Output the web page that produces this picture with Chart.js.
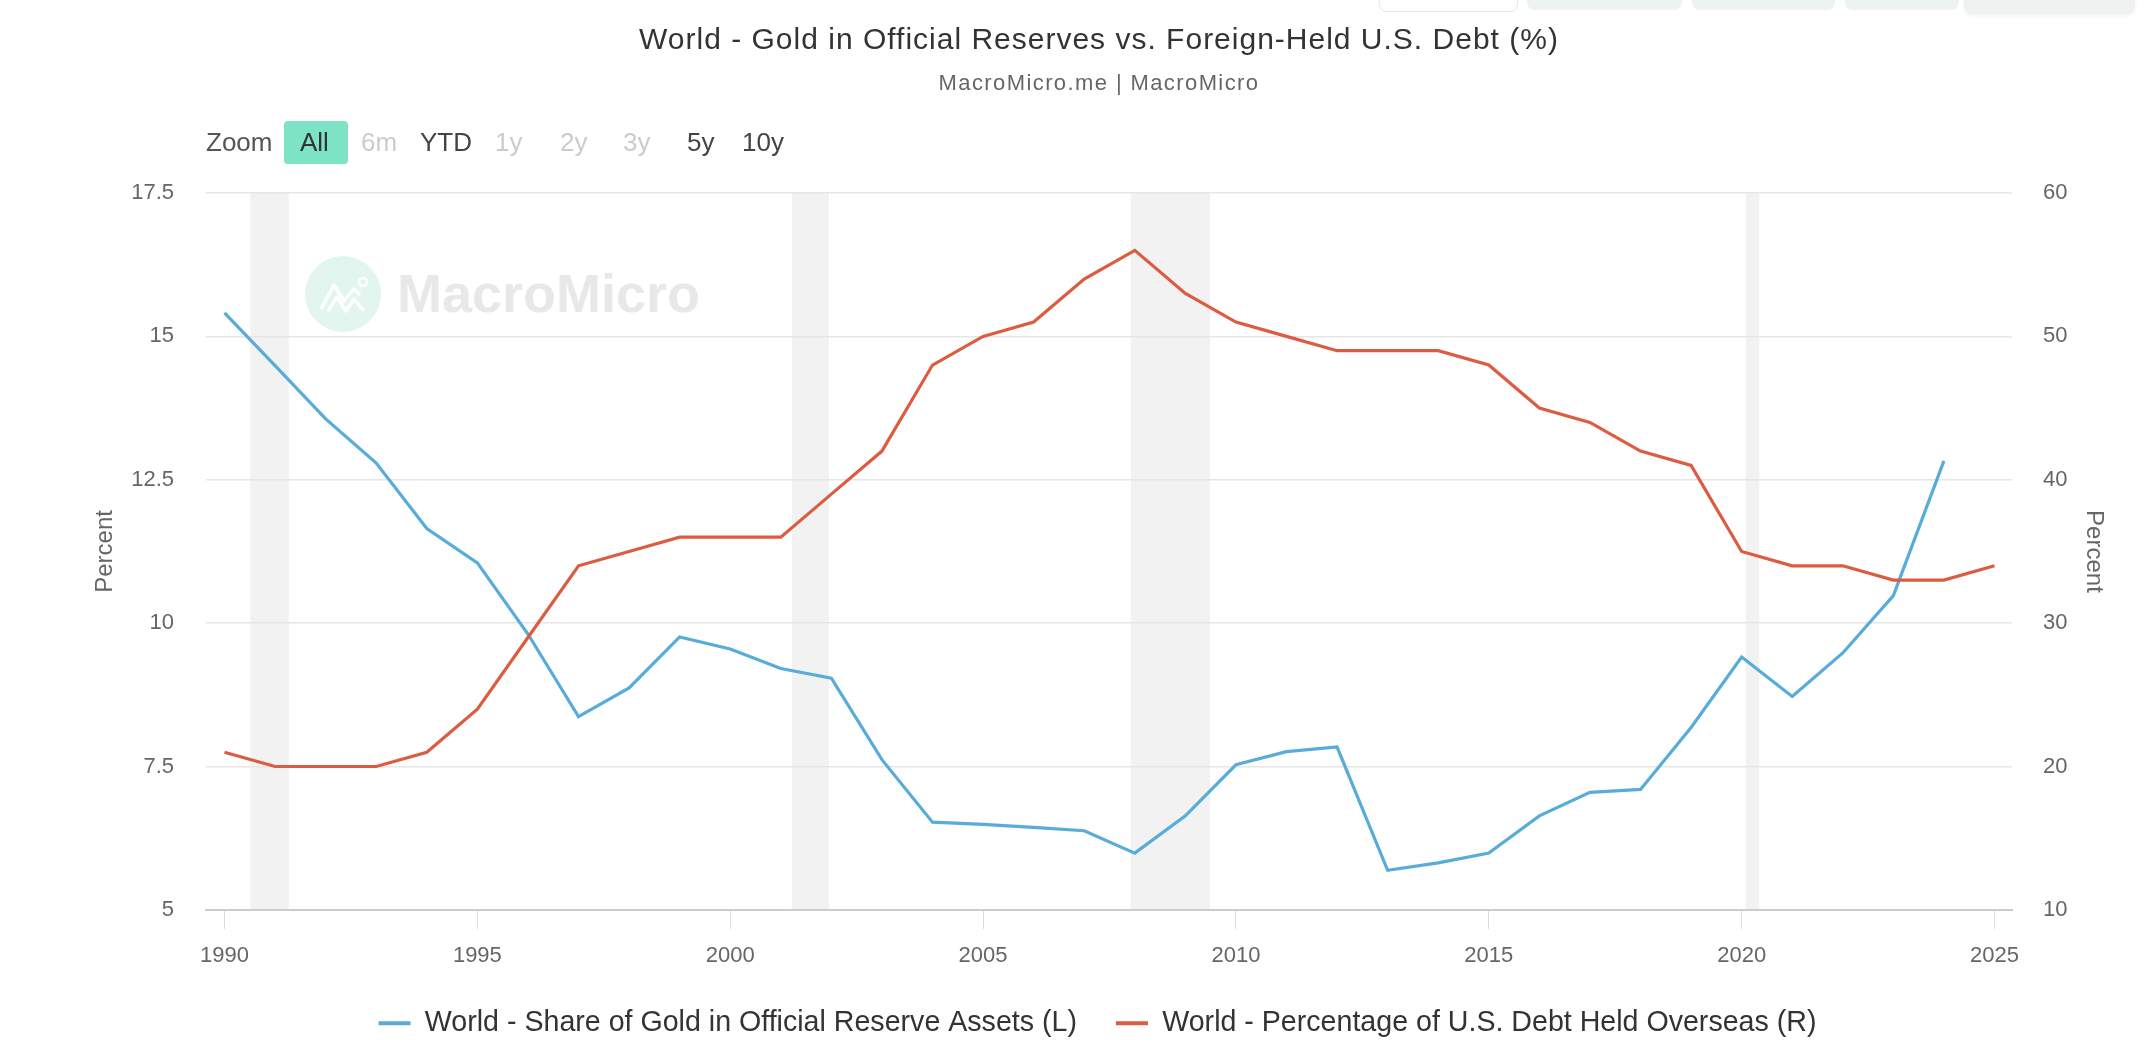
<!DOCTYPE html>
<html>
<head>
<meta charset="utf-8">
<title>World - Gold in Official Reserves vs. Foreign-Held U.S. Debt (%)</title>
<script src="https://cdn.jsdelivr.net/npm/chart.js@4.4.1/dist/chart.umd.min.js"></script>
<style>
    html, body { margin: 0; padding: 0; background: #fff; }
    body { width: 2144px; height: 1058px; position: relative; overflow: hidden; font-family: "Liberation Sans", Arial, sans-serif; }
    .pestana { position: absolute; top: -30px; height: 40px; border-radius: 8px; background: #edf3f1; }
    #titulo { position: absolute; left: 54px; right: 0; top: 21px; text-align: center; font-size: 30px; letter-spacing: 1px; line-height: 36px; color: #333; z-index: 2; }
    #subtitulo { position: absolute; left: 54px; right: 0; top: 70px; text-align: center; font-size: 22px; letter-spacing: 1.4px; line-height: 25px; color: #666; z-index: 2; }
    #zoom span { position: absolute; top: 127px; font-size: 26px; line-height: 30px; z-index: 2; }
    #boton-all { position: absolute; left: 284px; top: 121px; width: 64px; height: 43px; background: #7de3c5; border-radius: 4px; z-index: 1; }
    #marca { position: absolute; left: 304px; top: 255px; z-index: 0; }
    #marca-texto { position: absolute; left: 397px; top: 263px; font-size: 54px; font-weight: bold; color: #e8e8e8; line-height: 60px; z-index: 0; }
    #contenedor { position: absolute; left: 0; top: 0; width: 2144px; height: 1058px; z-index: 1; }
</style>
</head>
<body>
<!-- pestañas cortadas arriba a la derecha -->
<div class="pestana" style="left:1379px; width:137px; background:#fff; border:1px solid #e6e6e6;"></div>
<div class="pestana" style="left:1527px; width:155px;"></div>
<div class="pestana" style="left:1692px; width:143px;"></div>
<div class="pestana" style="left:1845px; width:114px;"></div>
<div class="pestana" style="left:1964px; width:171px; height:44px; background:#eef3f1; box-shadow:0 2px 4px rgba(0,0,0,0.05);"></div>

<div id="titulo">World - Gold in Official Reserves vs. Foreign-Held U.S. Debt (%)</div>
<div id="subtitulo">MacroMicro.me | MacroMicro</div>

<div id="boton-all"></div>
<div id="zoom">
    <span style="left:206px; color:#555;">Zoom</span>
    <span style="left:300px; color:#333;">All</span>
    <span style="left:361px; color:#ccc;">6m</span>
    <span style="left:420px; color:#444;">YTD</span>
    <span style="left:495px; color:#ccc;">1y</span>
    <span style="left:560px; color:#ccc;">2y</span>
    <span style="left:623px; color:#ccc;">3y</span>
    <span style="left:687px; color:#444;">5y</span>
    <span style="left:742px; color:#444;">10y</span>
</div>

<!-- marca de agua -->
<svg id="marca" width="78" height="78" viewBox="0 0 78 78">
    <circle cx="39" cy="39" r="38" fill="#e2f6ef"/>
    <polyline points="17,54 30,30 40,46 50,34 56,40" fill="none" stroke="#fff" stroke-width="3.5" stroke-linejoin="round"/>
    <polyline points="24,56 33,42 42,56 50,44 60,56" fill="none" stroke="#fff" stroke-width="3.5" stroke-linejoin="round"/>
    <circle cx="59" cy="27" r="4" fill="none" stroke="#fff" stroke-width="2.5"/>
</svg>
<div id="marca-texto">MacroMicro</div>

<div id="contenedor"><canvas id="grafico"></canvas></div>

<script>
// Datos (valores anuales)
const years = [1990, 1991, 1992, 1993, 1994, 1995, 1996, 1997, 1998, 1999,
               2000, 2001, 2002, 2003, 2004, 2005, 2006, 2007, 2008, 2009,
               2010, 2011, 2012, 2013, 2014, 2015, 2016, 2017, 2018, 2019,
               2020, 2021, 2022, 2023, 2024, 2025];
const goldShare = [15.41, 14.49, 13.56, 12.79, 11.65, 11.05, 9.81, 8.37, 8.87, 9.76,
                   9.55, 9.21, 9.04, 7.62, 6.53, 6.49, 6.44, 6.38, 5.99, 6.64,
                   7.53, 7.76, 7.84, 5.69, 5.82, 5.99, 6.64, 7.05, 7.10, 8.18,
                   9.41, 8.72, 9.48, 10.48, 12.83, null];
const debtOverseas = [21, 20, 20, 20, 21, 24, 29, 34, 35, 36,
                      36, 36, 39, 42, 48, 50, 51, 54, 56, 53,
                      51, 50, 49, 49, 49, 48, 45, 44, 42, 41,
                      35, 34, 34, 33, 33, 34];

// Recesiones de EE.UU. (franjas grises)
const recessions = [[1990.51, 1991.27], [2001.22, 2001.95], [2007.92, 2009.49], [2020.08, 2020.35]];

// Etiquetas de los ejes
const xTicks = [1990, 1995, 2000, 2005, 2010, 2015, 2020, 2025];
const leftTicks = [5, 7.5, 10, 12.5, 15, 17.5];
const rightTicks = [10, 20, 30, 40, 50, 60];

const labelGold = 'World - Share of Gold in Official Reserve Assets (L)';
const labelDebt = 'World - Percentage of U.S. Debt Held Overseas (R)';

const azul = '#58acd9';
const rojo = '#dd5b40';

function puntos(valores) {
    return years.map((y, i) => ({ x: y, y: valores[i] }));
}

// Plugin para las franjas de recesión
const franjas = {
    id: 'franjas',
    beforeDraw(chart) {
        const { ctx, chartArea, scales } = chart;
        const x = scales.x;
        ctx.save();
        ctx.fillStyle = '#f2f2f2';
        recessions.forEach(([a, b]) => {
            const x1 = x.getPixelForValue(a);
            const x2 = x.getPixelForValue(b);
            ctx.fillRect(x1, chartArea.top, x2 - x1, chartArea.bottom - chartArea.top);
        });
        ctx.restore();
    }
};

const fuenteTicks = { family: 'Liberation Sans', size: 22 };
const fuenteTitulo = { family: 'Liberation Sans', size: 24 };

document.addEventListener('DOMContentLoaded', function () {
    const ctx = document.getElementById('grafico').getContext('2d');
    new Chart(ctx, {
        type: 'line',
        data: {
            datasets: [{
                label: labelGold,
                data: puntos(goldShare),
                borderColor: azul,
                backgroundColor: azul,
                borderWidth: 3.2,
                pointRadius: 0,
                tension: 0,
                yAxisID: 'yL',
                order: 1
            }, {
                label: labelDebt,
                data: puntos(debtOverseas),
                borderColor: rojo,
                backgroundColor: rojo,
                borderWidth: 3.2,
                pointRadius: 0,
                tension: 0,
                yAxisID: 'yR',
                order: 0
            }]
        },
        options: {
            responsive: true,
            maintainAspectRatio: false,
            animation: false,
            layout: { padding: { top: 193, left: 51, right: 0, bottom: 10.5 } },
            plugins: {
                tooltip: { enabled: false },
                legend: {
                    position: 'bottom',
                    labels: {
                        boxWidth: 32,
                        boxHeight: 4,
                        padding: 39,
                        color: '#333',
                        font: { family: 'Liberation Sans', size: 28.6 },
                        sort: (a, b) => a.datasetIndex - b.datasetIndex,
                        generateLabels(chart) {
                            const items = Chart.defaults.plugins.legend.labels.generateLabels(chart);
                            items.forEach(it => { it.lineWidth = 0; });
                            return items;
                        }
                    }
                }
            },
            scales: {
                x: {
                    type: 'linear',
                    min: 1989.634,
                    max: 2025.346,
                    afterBuildTicks: scale => { scale.ticks = xTicks.map(v => ({ value: v })); },
                    afterFit: scale => { scale.height = 60; },
                    ticks: {
                        color: '#666',
                        font: fuenteTicks,
                        padding: 14,
                        maxRotation: 0,
                        callback: v => String(v)
                    },
                    grid: {
                        drawOnChartArea: false,
                        drawTicks: true,
                        tickLength: 19,
                        color: '#dcdcdc'
                    },
                    border: { display: true, color: '#ccc', width: 2 }
                },
                yL: {
                    position: 'left',
                    min: 5,
                    max: 17.5,
                    afterBuildTicks: scale => { scale.ticks = leftTicks.map(v => ({ value: v })); },
                    afterFit: scale => { scale.width = 155; },
                    ticks: {
                        color: '#666',
                        font: fuenteTicks,
                        padding: 32,
                        callback: v => String(v)
                    },
                    grid: { color: '#e6e6e6', lineWidth: 1.5, drawTicks: false },
                    border: { display: false },
                    title: {
                        display: true,
                        text: 'Percent',
                        color: '#666',
                        font: fuenteTitulo,
                        padding: { top: 39.6, bottom: 0 }
                    }
                },
                yR: {
                    position: 'right',
                    min: 10,
                    max: 60,
                    afterBuildTicks: scale => { scale.ticks = rightTicks.map(v => ({ value: v })); },
                    afterFit: scale => { scale.width = 132; },
                    ticks: {
                        color: '#666',
                        font: fuenteTicks,
                        padding: 31,
                        callback: v => String(v)
                    },
                    grid: { display: false, drawTicks: false },
                    border: { display: false },
                    title: {
                        display: true,
                        text: 'Percent',
                        color: '#666',
                        font: fuenteTitulo,
                        padding: { top: 35.6, bottom: 0 }
                    }
                }
            }
        },
        plugins: [franjas]
    });
});
</script>
</body>
</html>
